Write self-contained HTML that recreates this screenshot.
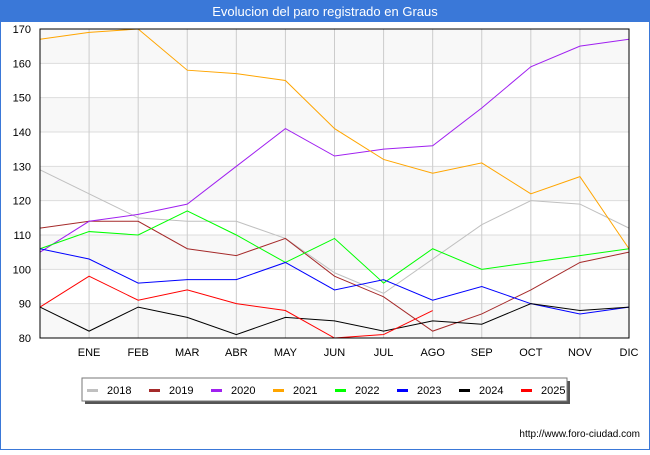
<!DOCTYPE html>
<html><head><meta charset="utf-8"><style>
body{margin:0;background:#fff;}
svg text{font-family:"Liberation Sans","DejaVu Sans",sans-serif;}
</style></head><body>
<svg width="650" height="450" xmlns="http://www.w3.org/2000/svg">
<rect x="0.5" y="0.5" width="649" height="449" fill="#fff" stroke="#3a78d8"/>
<rect x="0" y="0" width="650" height="22" fill="#3a78d8"/>
<text x="325" y="16" text-anchor="middle" fill="#fff" font-size="13">Evolucion del paro registrado en Graus</text>
<g id="bands"></g><g id="grid"></g><g id="axes"></g><g id="series"></g>
<rect x="40" y="29" width="589" height="309" fill="none" stroke="#000"/>
<rect x="85" y="381" width="485" height="23" fill="#555"/>
<rect x="82" y="378" width="485" height="23" fill="#fff" stroke="#777"/>
<g id="legend"></g>
<text x="640" y="437" text-anchor="end" font-size="10" fill="#000">http://www.foro-ciudad.com</text>
</svg>
<script>
const categories=["","ENE","FEB","MAR","ABR","MAY","JUN","JUL","AGO","SEP","OCT","NOV","DIC"];
const yTicks=[80,90,100,110,120,130,140,150,160,170];
const years=["2018","2019","2020","2021","2022","2023","2024","2025"];
const colors=["#c0c0c0","#a52a2a","#a020f0","#ffa500","#00ff00","#0000ff","#000000","#ff0000"];
const s2018=[129,122,115,114,114,109,99,93,103,113,120,119,112];
const s2019=[112,114,114,106,104,109,98,92,82,87,94,102,105];
const s2020=[105,114,116,119,130,141,133,135,136,147,159,165,167];
const s2021=[167,169,170,158,157,155,141,132,128,131,122,127,106];
const s2022=[106,111,110,117,110,102,109,96,106,100,102,104,106];
const s2023=[106,103,96,97,97,102,94,97,91,95,90,87,89];
const s2024=[89,82,89,86,81,86,85,82,85,84,90,88,89];
const s2025=[89,98,91,94,90,88,80,81,88];
const series=[s2018,s2019,s2020,s2021,s2022,s2023,s2024,s2025];
const NS="http://www.w3.org/2000/svg";
const X0=40,X1=629,Y0=338,Y1=29,YMIN=80,YMAX=170;
const xs=i=>X0+i*(X1-X0)/(categories.length-1);
const ys=v=>Y0-(v-YMIN)*(Y0-Y1)/(YMAX-YMIN);
function mk(t,a,p){const e=document.createElementNS(NS,t);for(const k in a)e.setAttribute(k,a[k]);document.getElementById(p).appendChild(e);return e;}
for(let i=0;i<yTicks.length-1;i++){
 if((yTicks.length-2-i)%2===0){const r=mk('rect',{x:X0,y:ys(yTicks[i+1]),width:X1-X0,height:ys(yTicks[i])-ys(yTicks[i+1]),fill:'#f8f8f8'},'bands');
 
 }
}
yTicks.forEach(v=>{
 const l=mk('line',{x1:X0,x2:X1,y1:ys(v),y2:ys(v),stroke:'#ddd'},'grid');
 
 
 const t=mk('text',{x:X0-9,y:ys(v)+4,'text-anchor':'end','font-size':'11'},'axes');t.textContent=v;
 
 
});
categories.forEach((c,i)=>{
 if(i>0){const l=mk('line',{x1:xs(i),x2:xs(i),y1:Y1,y2:Y0,stroke:'#ccc'},'grid');
 
 }
 const t=mk('text',{x:xs(i),y:356,'text-anchor':'middle','font-size':'11'},'axes');t.textContent=c;
 
 
});
series.forEach((s,k)=>{
 const p=mk('polyline',{points:s.map((v,i)=>xs(i)+','+ys(v)).join(' '),fill:'none',stroke:colors[k],'stroke-width':'1'},'series');
 
 
 const lx=87+k*62;
 const sw=mk('rect',{x:lx,y:389,width:11,height:3,fill:colors[k]},'legend');
 
 
 const t=mk('text',{x:lx+20,y:394,'font-size':'11'},'legend');t.textContent=years[k];
 
 
});
</script>
</body></html>
